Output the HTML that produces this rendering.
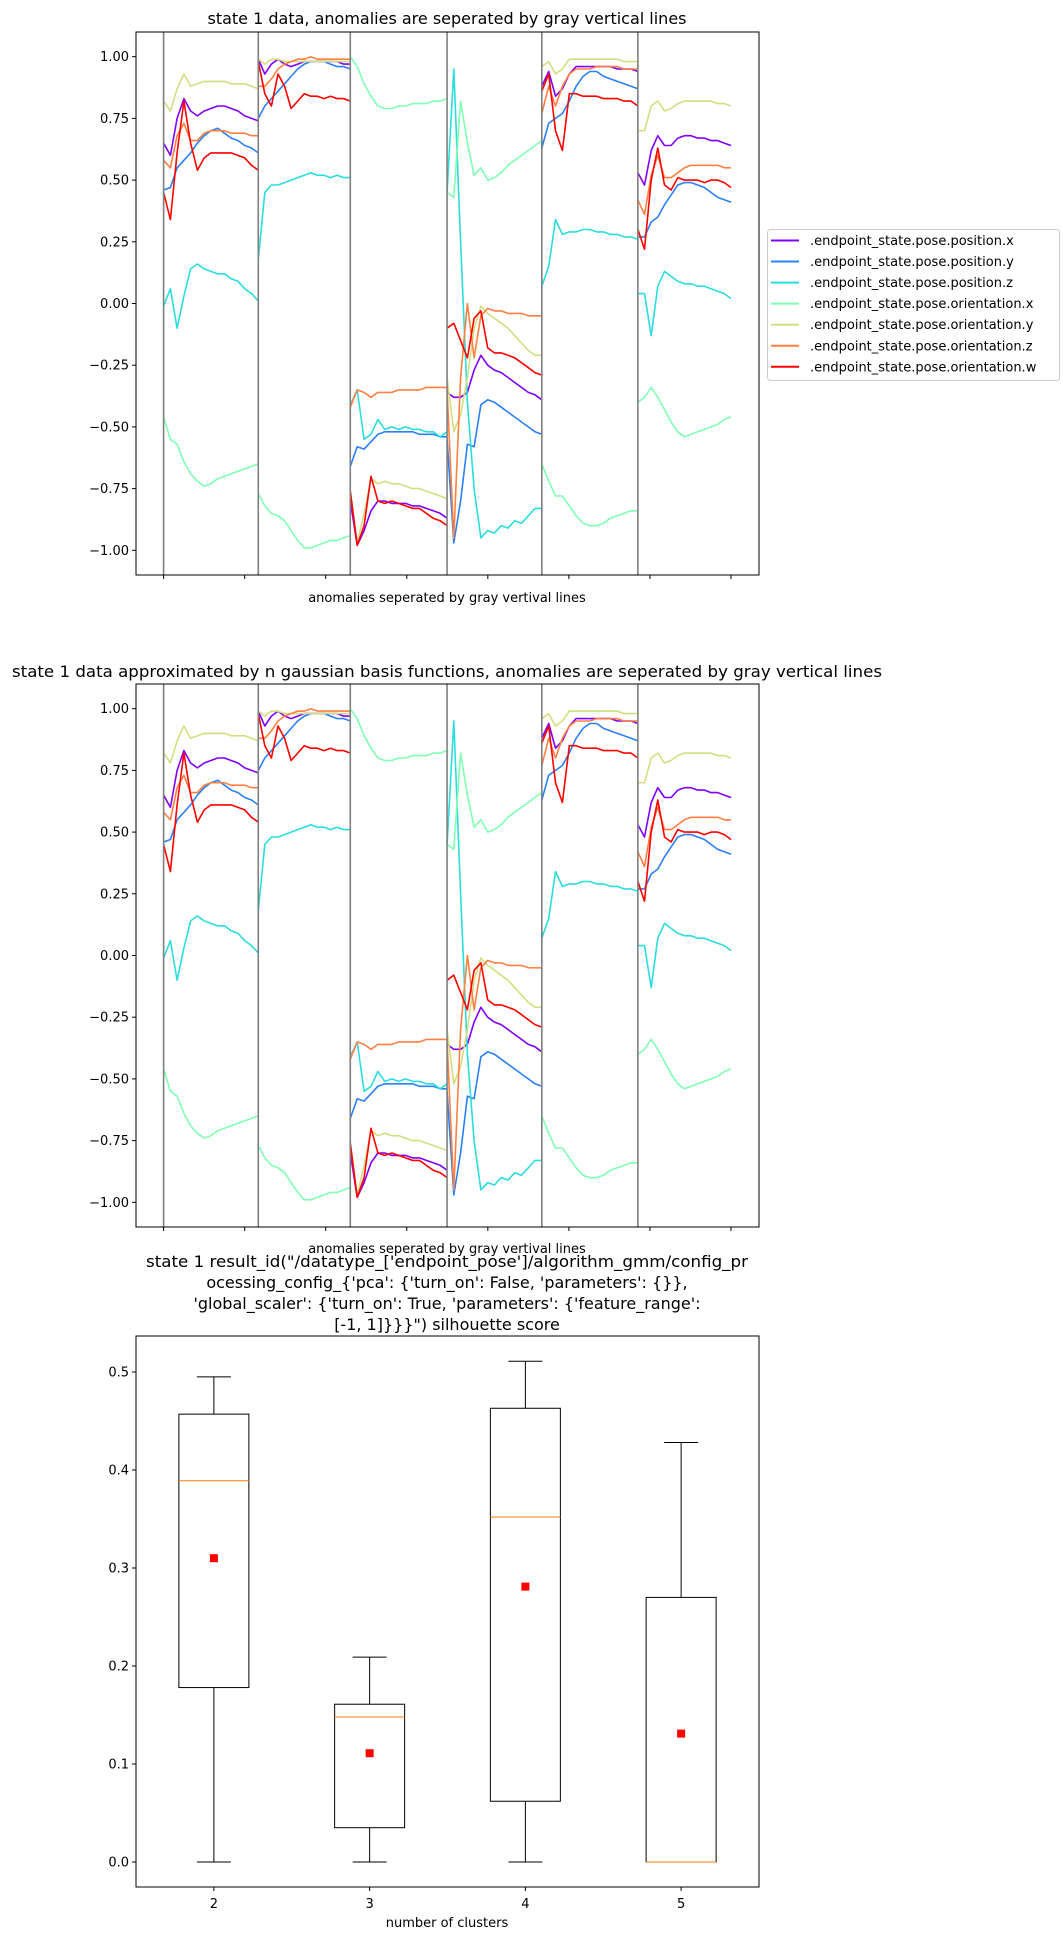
<!DOCTYPE html>
<html><head><meta charset="utf-8"><style>
html,body{margin:0;padding:0;background:#fff;}
svg{display:block;font-family:"DejaVu Sans","Liberation Sans",sans-serif;}
</style></head><body>
<svg id="root" xmlns="http://www.w3.org/2000/svg" width="1063" height="1933" viewBox="0 0 1063 1933">
<rect width="1063" height="1933" fill="#fff"/>
<text x="447" y="24" font-size="16" text-anchor="middle">state 1 data, anomalies are seperated by gray vertical lines</text>
<text x="447" y="602" font-size="13" text-anchor="middle">anomalies seperated by gray vertival lines</text>
<text x="447" y="677" font-size="16" text-anchor="middle" textLength="870" lengthAdjust="spacingAndGlyphs">state 1 data approximated by n gaussian basis functions, anomalies are seperated by gray vertical lines</text>
<text x="447" y="1253" font-size="13" text-anchor="middle">anomalies seperated by gray vertival lines</text>
<g font-size="16" text-anchor="middle">
<text x="447" y="1267" textLength="602" lengthAdjust="spacingAndGlyphs">state 1 result_id("/datatype_['endpoint_pose']/algorithm_gmm/config_pr</text>
<text x="447" y="1288">ocessing_config_{'pca': {'turn_on': False, 'parameters': {}},</text>
<text x="447" y="1309">'global_scaler': {'turn_on': True, 'parameters': {'feature_range':</text>
<text x="447" y="1330">[-1, 1]}}}") silhouette score</text>
</g>
<text x="447" y="1927" font-size="13" text-anchor="middle">number of clusters</text>
<g id="c1"></g>
<g id="c2"></g>
<g id="c3"></g>
<g id="legend"></g>
</svg>
<script>
// ---- line chart data ----
const seriesNames = [".endpoint_state.pose.position.x",".endpoint_state.pose.position.y",".endpoint_state.pose.position.z",".endpoint_state.pose.orientation.x",".endpoint_state.pose.orientation.y",".endpoint_state.pose.orientation.z",".endpoint_state.pose.orientation.w"];
const seriesColors = ["#8000ff","#2b80f6","#2bdddd","#80ffb4","#d4dd80","#ff8042","#ff0000"];
const anomalyBounds = [0, 1.168, 2.303, 3.497, 4.666, 5.851, 7];
const yTicks1 = [-1, -0.75, -0.5, -0.25, 0, 0.25, 0.5, 0.75, 1];
const xTicks1 = [0,1,2,3,4,5,6,7];
const posX = [
[0.65,0.60,0.75,0.83,0.78,0.76,0.78,0.79,0.80,0.80,0.79,0.78,0.76,0.75,0.74],
[0.99,0.93,0.97,0.99,0.97,0.96,0.97,0.98,0.98,0.98,0.98,0.98,0.98,0.97,0.97],
[-0.80,-0.98,-0.92,-0.84,-0.80,-0.80,-0.81,-0.81,-0.81,-0.82,-0.82,-0.83,-0.84,-0.85,-0.87],
[-0.36,-0.38,-0.38,-0.36,-0.27,-0.21,-0.25,-0.27,-0.28,-0.30,-0.32,-0.34,-0.36,-0.37,-0.39],
[0.88,0.94,0.84,0.87,0.93,0.96,0.96,0.96,0.96,0.96,0.96,0.95,0.95,0.95,0.94],
[0.53,0.48,0.62,0.68,0.64,0.64,0.67,0.68,0.68,0.67,0.67,0.66,0.66,0.65,0.64]];
const posY = [
[0.46,0.47,0.55,0.58,0.61,0.65,0.68,0.70,0.71,0.69,0.67,0.66,0.64,0.63,0.61],
[0.75,0.80,0.83,0.86,0.89,0.92,0.95,0.97,0.98,0.98,0.98,0.97,0.96,0.96,0.95],
[-0.66,-0.58,-0.59,-0.56,-0.53,-0.52,-0.52,-0.52,-0.52,-0.52,-0.53,-0.53,-0.53,-0.54,-0.54],
[-0.55,-0.97,-0.80,-0.57,-0.58,-0.41,-0.39,-0.40,-0.42,-0.44,-0.46,-0.48,-0.50,-0.52,-0.53],
[0.63,0.73,0.75,0.77,0.82,0.88,0.92,0.94,0.94,0.92,0.91,0.90,0.89,0.88,0.87],
[0.27,0.27,0.33,0.35,0.40,0.44,0.48,0.49,0.49,0.48,0.47,0.45,0.43,0.42,0.41]];
const posZ = [
[-0.01,0.06,-0.10,0.03,0.14,0.16,0.14,0.13,0.12,0.12,0.10,0.09,0.06,0.04,0.01],
[0.18,0.45,0.48,0.48,0.49,0.50,0.51,0.52,0.53,0.52,0.52,0.51,0.52,0.51,0.51],
[-0.41,-0.35,-0.55,-0.53,-0.47,-0.51,-0.50,-0.51,-0.50,-0.51,-0.51,-0.52,-0.52,-0.54,-0.52],
[0.45,0.95,0.25,-0.40,-0.75,-0.95,-0.92,-0.93,-0.90,-0.91,-0.88,-0.89,-0.86,-0.83,-0.83],
[0.07,0.15,0.34,0.28,0.29,0.29,0.30,0.30,0.29,0.29,0.28,0.28,0.27,0.27,0.26],
[0.04,0.04,-0.13,0.07,0.13,0.11,0.09,0.08,0.08,0.07,0.07,0.06,0.05,0.04,0.02]];
const oriX = [
[-0.46,-0.55,-0.57,-0.64,-0.69,-0.72,-0.74,-0.73,-0.71,-0.70,-0.69,-0.68,-0.67,-0.66,-0.65],
[-0.77,-0.82,-0.85,-0.86,-0.88,-0.92,-0.96,-0.99,-0.99,-0.98,-0.97,-0.96,-0.96,-0.95,-0.94],
[1.0,0.96,0.89,0.84,0.80,0.79,0.79,0.80,0.80,0.81,0.81,0.81,0.82,0.82,0.83],
[0.45,0.43,0.82,0.65,0.52,0.55,0.50,0.51,0.53,0.56,0.58,0.60,0.62,0.64,0.66],
[-0.65,-0.72,-0.78,-0.78,-0.82,-0.86,-0.89,-0.90,-0.90,-0.89,-0.87,-0.86,-0.85,-0.84,-0.84],
[-0.40,-0.38,-0.34,-0.38,-0.43,-0.48,-0.52,-0.54,-0.53,-0.52,-0.51,-0.50,-0.49,-0.47,-0.46]];
const oriY = [
[0.82,0.78,0.87,0.93,0.88,0.89,0.90,0.90,0.90,0.90,0.89,0.89,0.89,0.88,0.87],
[0.99,0.97,0.99,0.99,0.98,0.98,0.98,0.98,0.98,0.98,0.98,0.98,0.98,0.98,0.98],
[-0.76,-0.97,-0.85,-0.71,-0.73,-0.72,-0.73,-0.73,-0.74,-0.75,-0.75,-0.76,-0.77,-0.78,-0.79],
[-0.30,-0.52,-0.45,-0.30,-0.10,-0.01,-0.04,-0.06,-0.08,-0.10,-0.13,-0.16,-0.19,-0.21,-0.21],
[0.96,0.98,0.93,0.95,0.99,0.99,0.99,0.99,0.99,0.99,0.99,0.99,0.98,0.98,0.98],
[0.70,0.70,0.80,0.82,0.78,0.79,0.81,0.82,0.82,0.82,0.82,0.82,0.81,0.81,0.80]];
const oriZ = [
[0.58,0.55,0.68,0.73,0.66,0.66,0.69,0.70,0.70,0.70,0.69,0.69,0.69,0.68,0.68],
[0.88,0.88,0.91,0.95,0.97,0.98,0.99,0.99,1.0,0.99,0.99,0.99,0.99,0.99,0.99],
[-0.42,-0.35,-0.36,-0.38,-0.36,-0.36,-0.36,-0.35,-0.35,-0.35,-0.35,-0.34,-0.34,-0.34,-0.34],
[-0.35,-0.95,-0.30,0.0,-0.22,-0.05,-0.02,-0.03,-0.03,-0.04,-0.04,-0.04,-0.05,-0.05,-0.05],
[0.77,0.88,0.80,0.88,0.93,0.95,0.95,0.95,0.96,0.96,0.96,0.96,0.95,0.95,0.95],
[0.42,0.36,0.52,0.60,0.51,0.51,0.53,0.55,0.56,0.56,0.56,0.56,0.56,0.55,0.55]];
const oriW = [
[0.45,0.34,0.61,0.82,0.65,0.54,0.59,0.61,0.61,0.61,0.61,0.60,0.59,0.56,0.54],
[0.98,0.85,0.80,0.93,0.88,0.79,0.82,0.85,0.84,0.84,0.83,0.84,0.83,0.83,0.82],
[-0.76,-0.98,-0.90,-0.70,-0.80,-0.81,-0.80,-0.81,-0.82,-0.83,-0.83,-0.85,-0.87,-0.88,-0.90],
[-0.10,-0.08,-0.15,-0.22,-0.06,-0.03,-0.18,-0.20,-0.20,-0.21,-0.22,-0.24,-0.26,-0.28,-0.29],
[0.86,0.93,0.70,0.62,0.85,0.85,0.84,0.84,0.84,0.83,0.83,0.83,0.82,0.82,0.80],
[0.30,0.22,0.50,0.63,0.48,0.46,0.51,0.50,0.50,0.50,0.49,0.50,0.50,0.49,0.47]];
const allSeries = [posX,posY,posZ,oriX,oriY,oriZ,oriW];

// ---- box plot data ----
const boxCategories = [2,3,4,5];
const boxLow = [0,0,0,0];
const boxQ1 = [0.178,0.035,0.062,0.0];
const boxMedian = [0.389,0.148,0.352,0.0];
const boxQ3 = [0.457,0.161,0.463,0.270];
const boxHigh = [0.495,0.209,0.511,0.428];
const boxMean = [0.310,0.111,0.281,0.131];
const yTicks3 = [0,0.1,0.2,0.3,0.4,0.5];

const NS = "http://www.w3.org/2000/svg";
function mk(parent, tag, attrs){const e=document.createElementNS(NS,tag);for(const k in attrs)e.setAttribute(k,attrs[k]);parent.appendChild(e);return e;}
function fmt2(v){const s=Math.abs(v).toFixed(2);return (v<0?"\u2212":"")+s;}

function lineChart(g, top, prefix){
  const L=136,R=759,B=top+543;
  const xs=v=>163.6+(v-0)*(731-163.6)/7;
  const ys=v=>top+(1.1-v)/2.2*543;
  const ax=mk(g,"g",{});
  
  
  yTicks1.forEach(t=>{
    const y=ys(t);
    mk(ax,"line",{x1:L-4,x2:L,y1:y,y2:y,stroke:"#000","stroke-width":1});
    const tx=mk(ax,"text",{x:L-7,y:y+4.5,"font-size":13,"text-anchor":"end"});
    tx.textContent=fmt2(t);
    
    
  });
  xTicks1.forEach(t=>{const x=xs(t);mk(ax,"line",{x1:x,x2:x,y1:B,y2:B+4,stroke:"#000","stroke-width":1});});
  const clipId=prefix+"clip";
  const cp=mk(g,"clipPath",{id:clipId});mk(cp,"rect",{x:L,y:top,width:R-L,height:543});
  const plot=mk(g,"g",{"clip-path":"url(#"+clipId+")"});
  allSeries.forEach((ser,si)=>{
    ser.forEach((seg,k)=>{
      const x0=anomalyBounds[k],x1=anomalyBounds[k+1];
      const pts=seg.map((v,i)=>xs(x0+(x1-x0)*i/(seg.length-1)).toFixed(1)+","+ys(v).toFixed(1)).join(" ");
      const pl=mk(plot,"polyline",{points:pts,fill:"none",stroke:seriesColors[si],"stroke-width":1.6,"stroke-linejoin":"round"});
      
      
    });
  });
  anomalyBounds.slice(0,6).forEach(b=>{
    const vl=mk(plot,"line",{x1:xs(b),x2:xs(b),y1:top,y2:B,stroke:"#7f7f7f","stroke-width":1.6});
    
    
  });
  mk(g,"rect",{x:L,y:top,width:R-L,height:543,fill:"none",stroke:"#000","stroke-width":1});
}
lineChart(document.getElementById("c1"),32,"chart1");
lineChart(document.getElementById("c2"),684,"chart2");

// legend
const lg=document.getElementById("legend");
mk(lg,"rect",{x:767.5,y:229.5,width:292,height:151,rx:3,fill:"#fff",stroke:"#ccc","stroke-width":1});
seriesNames.forEach((n,i)=>{
  const y=240.5+i*21.05;
  const ln=mk(lg,"line",{x1:771,x2:799,y1:y,y2:y,stroke:seriesColors[i],"stroke-width":2});
  
  
  const t=mk(lg,"text",{x:810,y:y+4.5,"font-size":13});
  t.textContent=n;
  
  
});

// box chart
(function(){
  const g=document.getElementById("c3");
  const L=136,R=759,T=1336,B=1887;
  const xs=c=>L+(c-1.5)*(R-L)/4;
  const ys=v=>1862-v*980;
  yTicks3.forEach(t=>{
    const y=ys(t);
    mk(g,"line",{x1:L-4,x2:L,y1:y,y2:y,stroke:"#000","stroke-width":1});
    const tx=mk(g,"text",{x:L-7,y:y+4.5,"font-size":13,"text-anchor":"end"});
    tx.textContent=t.toFixed(1);
    
    
  });
  boxCategories.forEach((c,i)=>{
    const x=xs(c),hw=35,cw=17;
    mk(g,"line",{x1:x,x2:x,y1:B,y2:B+4,stroke:"#000","stroke-width":1});
    const tl=mk(g,"text",{x:x,y:1908,"font-size":13,"text-anchor":"middle"});
    tl.textContent=String(c);
    
    
    const bg=mk(g,"g",{stroke:"#000","stroke-width":1,fill:"none"});
    
    
    mk(bg,"line",{x1:x,x2:x,y1:ys(boxQ3[i]),y2:ys(boxHigh[i])});
    mk(bg,"line",{x1:x,x2:x,y1:ys(boxQ1[i]),y2:ys(boxLow[i])});
    mk(bg,"line",{x1:x-cw,x2:x+cw,y1:ys(boxHigh[i]),y2:ys(boxHigh[i])});
    mk(bg,"line",{x1:x-cw,x2:x+cw,y1:ys(boxLow[i]),y2:ys(boxLow[i])});
    mk(bg,"rect",{x:x-hw,y:ys(boxQ3[i]),width:2*hw,height:ys(boxQ1[i])-ys(boxQ3[i])});
    const md=mk(g,"line",{x1:x-hw,x2:x+hw,y1:ys(boxMedian[i]),y2:ys(boxMedian[i]),stroke:"#ff7f0e","stroke-width":1});
    
    
    const mn=mk(g,"rect",{x:x-4,y:ys(boxMean[i])-4,width:8,height:8,fill:"#ff0000"});
    
    
  });
  mk(g,"rect",{x:L,y:T,width:R-L,height:B-T,fill:"none",stroke:"#000","stroke-width":1});
})();
</script>
</body></html>
